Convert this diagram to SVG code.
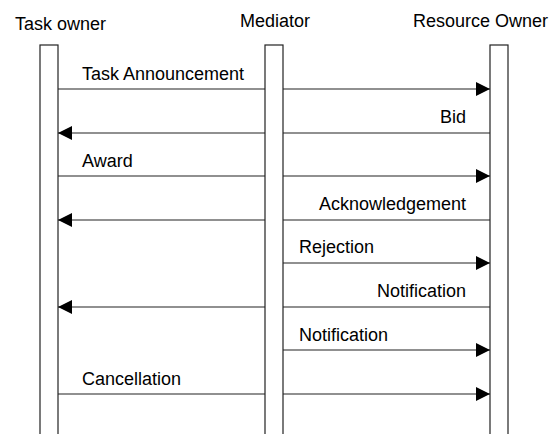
<svg xmlns="http://www.w3.org/2000/svg" width="555" height="434" viewBox="0 0 555 434">
<style>
text{font-family:"Liberation Sans",Arial,sans-serif;font-size:18px;fill:#000}
.life{fill:#fff;stroke:#222;stroke-width:1.2}
.msg{fill:none;stroke:#222;stroke-width:1.2;marker-end:url(#ah)}
.end{text-anchor:end}
</style>
<defs>
<marker id="ah" markerUnits="userSpaceOnUse" markerWidth="14" markerHeight="14" refX="14" refY="7" orient="auto">
<path d="M0,0 L14,7 L0,14 Z" fill="#000"/>
</marker>
</defs>
<rect width="555" height="434" fill="#fff"/>
<g id="task-owner">
<text x="15" y="30">Task owner</text>
<rect class="life" x="40" y="45" width="18" height="400"/>
</g>
<g id="mediator">
<text x="240" y="27">Mediator</text>
<rect class="life" x="265" y="45" width="18" height="400"/>
</g>
<g id="resource-owner">
<text x="413" y="27">Resource Owner</text>
<rect class="life" x="490" y="45" width="18" height="400"/>
</g>
<g id="connectors">
<path class="msg" d="M58,89 H265 M283,89 H490"/>
<path class="msg" d="M490,133 H283 M265,133 H58"/>
<path class="msg" d="M58,176 H265 M283,176 H490"/>
<path class="msg" d="M490,220 H283 M265,220 H58"/>
<path class="msg" d="M283,263 H490"/>
<path class="msg" d="M490,307 H283 M265,307 H58"/>
<path class="msg" d="M283,350 H490"/>
<path class="msg" d="M58,394 H265 M283,394 H490"/>
</g>
<g id="labels">
<text x="82" y="80">Task Announcement</text>
<text class="end" x="466" y="123">Bid</text>
<text x="82" y="167">Award</text>
<text class="end" x="466" y="210">Acknowledgement</text>
<text x="299" y="253">Rejection</text>
<text class="end" x="466" y="297">Notification</text>
<text x="299" y="341">Notification</text>
<text x="82" y="385">Cancellation</text>
</g>
</svg>
